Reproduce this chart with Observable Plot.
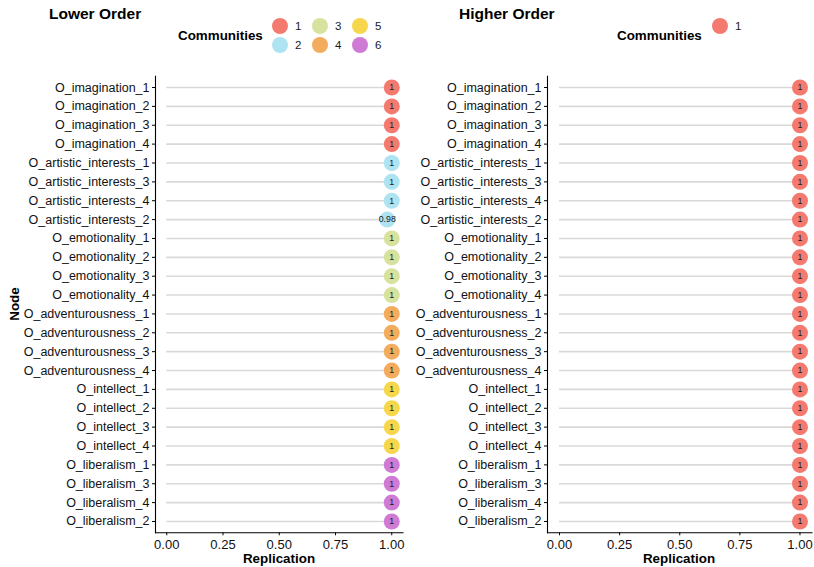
<!DOCTYPE html>
<html>
<head>
<meta charset="utf-8">
<script src="https://cdn.jsdelivr.net/npm/d3@7"></script>
<script src="https://cdn.jsdelivr.net/npm/@observablehq/plot@0.6"></script>
<style>
  html, body { margin: 0; padding: 0; background: #fff; }
  #wrap { position: relative; width: 814px; height: 567px; font-family: "Liberation Sans", Arial, sans-serif; color: #000; }
  .panel { position: absolute; top: 0; }
  .title { position: absolute; font-weight: bold; font-size: 15.5px; top: 5px; }
  .legtitle { position: absolute; font-weight: bold; font-size: 13.4px; top: 28px; }
  .xlab { position: absolute; font-weight: bold; font-size: 13.4px; top: 551px; transform: translateX(-50%); }
  .ylab { position: absolute; font-weight: bold; font-size: 13.4px; left: 14px; top: 304px; transform: translate(-50%, -50%) rotate(-90deg); }
  svg.leg { position: absolute; top: 0; left: 0; overflow: visible; }
</style>
</head>
<body>
<div id="wrap"></div>
<script>
// ---------- data ----------
const communities = ["1", "2", "3", "4", "5", "6"];
const communityColors = ["#F47A70", "#AEE3F2", "#D7E29E", "#F3AC5E", "#F6D74B", "#CF7BD5"];

const lowerNodes = [
  "O_imagination_1", "O_imagination_2", "O_imagination_3", "O_imagination_4",
  "O_artistic_interests_1", "O_artistic_interests_3", "O_artistic_interests_4", "O_artistic_interests_2",
  "O_emotionality_1", "O_emotionality_2", "O_emotionality_3", "O_emotionality_4",
  "O_adventurousness_1", "O_adventurousness_2", "O_adventurousness_3", "O_adventurousness_4",
  "O_intellect_1", "O_intellect_2", "O_intellect_3", "O_intellect_4",
  "O_liberalism_1", "O_liberalism_3", "O_liberalism_4", "O_liberalism_2"
];
const lowerReplication = [1, 1, 1, 1, 1, 1, 1, 0.98, 1, 1, 1, 1, 1, 1, 1, 1, 1, 1, 1, 1, 1, 1, 1, 1];
const lowerCommunity = ["1","1","1","1","2","2","2","2","3","3","3","3","4","4","4","4","5","5","5","5","6","6","6","6"];

const higherNodes = [
  "O_imagination_1", "O_imagination_2", "O_imagination_3", "O_imagination_4",
  "O_artistic_interests_1", "O_artistic_interests_3", "O_artistic_interests_4", "O_artistic_interests_2",
  "O_emotionality_1", "O_emotionality_2", "O_emotionality_3", "O_emotionality_4",
  "O_adventurousness_1", "O_adventurousness_2", "O_adventurousness_3", "O_adventurousness_4",
  "O_intellect_1", "O_intellect_2", "O_intellect_3", "O_intellect_4",
  "O_liberalism_1", "O_liberalism_3", "O_liberalism_4", "O_liberalism_2"
];
const higherReplication = [1, 1, 1, 1, 1, 1, 1, 1, 1, 1, 1, 1, 1, 1, 1, 1, 1, 1, 1, 1, 1, 1, 1, 1];
const higherCommunity = ["1","1","1","1","1","1","1","1","1","1","1","1","1","1","1","1","1","1","1","1","1","1","1","1"];

const xTicks = [0, 0.25, 0.5, 0.75, 1];

// ---------- drawing ----------
const wrap = document.getElementById("wrap");
const fmtVal = v => (v === 1 ? "1" : String(v));

function panel(nodes, rep, comm, left, marginLeft, marginRight) {
  const data = nodes.map((n, i) => ({node: n, rep: rep[i], comm: comm[i]}));
  const chart = Plot.plot({
    width: 407,
    height: 567,
    marginLeft,
    marginRight,
    marginTop: 75.7,
    marginBottom: 34.7,
    style: {fontFamily: "'Liberation Sans', Arial, sans-serif", fontSize: "12px", color: "#111", background: "transparent", overflow: "visible"},
    x: {domain: [-0.05, 1.05], label: null},
    y: {type: "point", domain: nodes, padding: 0.6, round: false, label: null},
    color: {domain: communities, range: communityColors},
    marks: [
      Plot.ruleY(data, {y: "node", x1: 0, x2: "rep", stroke: "#d9d9d9", strokeWidth: 1.6}),
      Plot.dot(data, {x: "rep", y: "node", fill: "comm", r: 8, stroke: null}),
      Plot.text(data, {x: "rep", y: "node", text: d => fmtVal(d.rep), fontSize: 8.8, fill: "#1a1a1a"}),
      Plot.frame({anchor: "left", stroke: "#000", strokeWidth: 1.1}),
      Plot.frame({anchor: "bottom", stroke: "#000", strokeWidth: 1.1}),
      Plot.axisX({ticks: xTicks, tickFormat: d3.format(".2f"), tickSize: 3, tickPadding: 4, fontSize: 13, label: null, stroke: "#000"}),
      Plot.axisY({tickSize: 3, tickPadding: 3, fontSize: 12.5, label: null, stroke: "#000"})
    ]
  });
  chart.classList.add("panel");
  chart.style.left = left + "px";
  wrap.appendChild(chart);
}

panel(lowerNodes, lowerReplication, lowerCommunity, 0, 155, 4.5);
panel(higherNodes, higherReplication, higherCommunity, 407, 140, 2.5);

// titles & labels
function addDiv(cls, text, style) {
  const d = document.createElement("div");
  d.className = cls;
  d.textContent = text;
  Object.assign(d.style, style || {});
  wrap.appendChild(d);
}
addDiv("title", "Lower Order", {left: "49px"});
addDiv("title", "Higher Order", {left: "459px"});
addDiv("legtitle", "Communities", {left: "178px"});
addDiv("legtitle", "Communities", {left: "617px"});
addDiv("xlab", "Replication", {left: "279px"});
addDiv("xlab", "Replication", {left: "679px"});
addDiv("ylab", "Node");

// legends
function legend(keys, x0, y0) {
  const ns = "http://www.w3.org/2000/svg";
  const svg = document.createElementNS(ns, "svg");
  svg.setAttribute("class", "leg");
  svg.setAttribute("width", 814);
  svg.setAttribute("height", 70);
  keys.forEach((k, i) => {
    const col = Math.floor(i / 2), row = i % 2;
    const cx = x0 + col * 40, cy = y0 + row * 19;
    const c = document.createElementNS(ns, "circle");
    c.setAttribute("cx", cx); c.setAttribute("cy", cy); c.setAttribute("r", 8);
    c.setAttribute("fill", communityColors[communities.indexOf(k)]);
    svg.appendChild(c);
    const t = document.createElementNS(ns, "text");
    t.setAttribute("x", cx + 15); t.setAttribute("y", cy + 4);
    t.setAttribute("font-size", "11.5px");
    t.setAttribute("font-family", "'Liberation Sans', Arial, sans-serif");
    t.setAttribute("fill", "#1a1a1a");
    t.textContent = k;
    svg.appendChild(t);
  });
  wrap.appendChild(svg);
}
legend(communities, 280, 26);
legend([...new Set(higherCommunity)], 720, 26);
</script>
</body>
</html>
